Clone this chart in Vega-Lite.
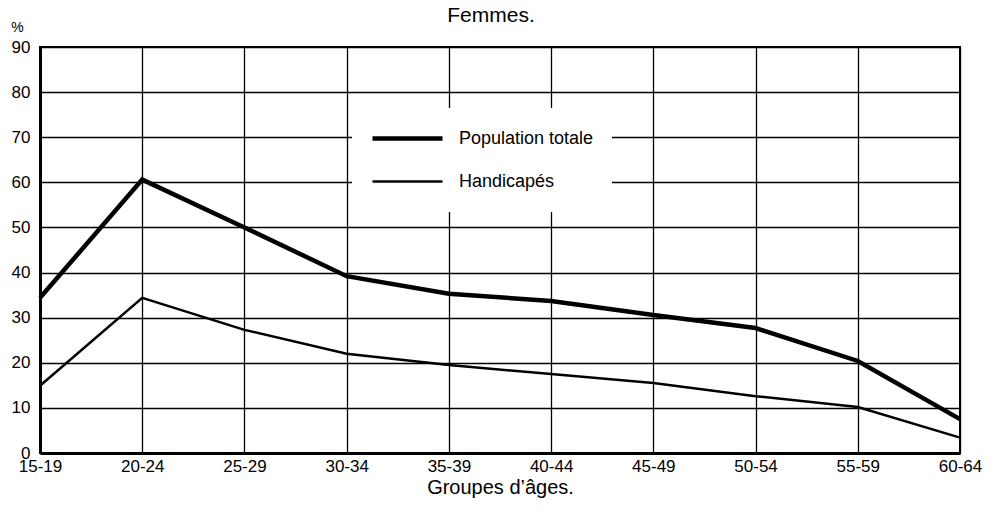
{
  "$schema": "https://vega.github.io/schema/vega-lite/v6.json",
  "autosize": "none",
  "width": 920,
  "height": 406,
  "padding": {"left": 40, "top": 47, "right": 29, "bottom": 60},
  "background": "white",
  "config": {
    "font": "Liberation Sans",
    "view": {"stroke": "black", "strokeWidth": 2}
  },
  "title": {"text": "Femmes.", "fontSize": 21, "fontWeight": "normal", "color": "black", "offset": -6, "dx": -9},
  "data": {
    "values": [
      {"age": "15-19", "serie": "Population totale", "pct": 34.4},
      {"age": "20-24", "serie": "Population totale", "pct": 60.6},
      {"age": "25-29", "serie": "Population totale", "pct": 50.0},
      {"age": "30-34", "serie": "Population totale", "pct": 39.2},
      {"age": "35-39", "serie": "Population totale", "pct": 35.3},
      {"age": "40-44", "serie": "Population totale", "pct": 33.7},
      {"age": "45-49", "serie": "Population totale", "pct": 30.6},
      {"age": "50-54", "serie": "Population totale", "pct": 27.7},
      {"age": "55-59", "serie": "Population totale", "pct": 20.4},
      {"age": "60-64", "serie": "Population totale", "pct": 7.5},
      {"age": "15-19", "serie": "Handicapés", "pct": 14.9},
      {"age": "20-24", "serie": "Handicapés", "pct": 34.4},
      {"age": "25-29", "serie": "Handicapés", "pct": 27.3},
      {"age": "30-34", "serie": "Handicapés", "pct": 22.0},
      {"age": "35-39", "serie": "Handicapés", "pct": 19.5},
      {"age": "40-44", "serie": "Handicapés", "pct": 17.5},
      {"age": "45-49", "serie": "Handicapés", "pct": 15.5},
      {"age": "50-54", "serie": "Handicapés", "pct": 12.6},
      {"age": "55-59", "serie": "Handicapés", "pct": 10.2},
      {"age": "60-64", "serie": "Handicapés", "pct": 3.4}
    ]
  },
  "mark": {"type": "line", "color": "black", "strokeJoin": "miter"},
  "encoding": {
    "x": {
      "field": "age", "type": "ordinal",
      "scale": {"type": "point", "padding": 0},
      "axis": {
        "title": "Groupes d’âges.", "titleFontSize": 20, "titleFontWeight": "normal", "titleColor": "black", "titlePadding": 3,
        "labelAngle": 0, "labelFontSize": 17, "labelColor": "black", "labelPadding": 5,
        "ticks": false, "domain": true, "domainColor": "black", "domainWidth": 3,
        "grid": true, "gridColor": "black", "gridWidth": 1.3, "gridOpacity": 1
      }
    },
    "y": {
      "field": "pct", "type": "quantitative",
      "scale": {"domain": [0, 90], "nice": false},
      "axis": {
        "title": "%", "titleAngle": 0, "titleFontSize": 14, "titleFontWeight": "normal", "titleColor": "black",
        "titleX": -23, "titleY": -20, "titleAlign": "center", "titleBaseline": "middle",
        "values": [0, 10, 20, 30, 40, 50, 60, 70, 80, 90],
        "labelFontSize": 17, "labelColor": "black", "labelPadding": 10,
        "ticks": false, "domain": true, "domainColor": "black", "domainWidth": 3,
        "grid": true, "gridColor": "black", "gridWidth": 1.3, "gridOpacity": 1
      }
    },
    "strokeWidth": {
      "field": "serie", "type": "nominal",
      "scale": {"domain": ["Population totale", "Handicapés"], "range": [4.5, 2.5]},
      "legend": {
        "title": null, "orient": "none", "legendX": 312, "legendY": 61,
        "symbolType": "stroke", "symbolSize": 4900, "symbolStrokeColor": "black",
        "labelFontSize": 18, "labelColor": "black", "labelOffset": 14,
        "clipHeight": 25, "rowPadding": 18, "fillColor": "white", "padding": 18
      }
    },
    "detail": {"field": "serie"}
  }
}
